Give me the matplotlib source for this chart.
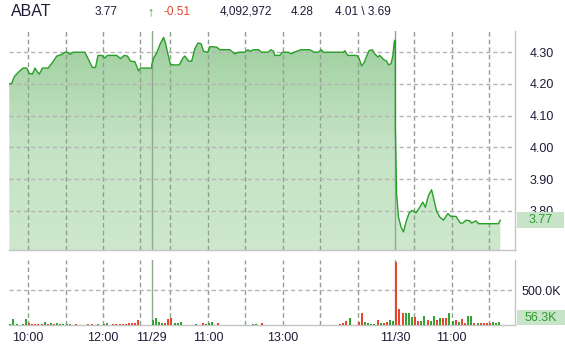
import numpy as np
import matplotlib.pyplot as plt
import matplotlib.transforms as mtransforms
from matplotlib.patches import Rectangle, PathPatch
from matplotlib.colors import LinearSegmentedColormap

plt.rcParams['font.family'] = ['Liberation Sans', 'DejaVu Sans']
plt.rcParams['lines.scale_dashes'] = False

# quote header
ticker = 'ABAT'
last = '3.77'
change = '-0.51'
day_volume = '4,092,972'
open_px = '4.28'
high_low = '4.01 \\ 3.69'

# hours shown per session (first session is cut by the window)
day_hours = [3.8, 6.5, 6.5]
# x labels: (session index, text, minutes after 9:30)
xlabels = [(0, '10:00', 30), (0, '12:00', 150), (1, '11/29', 0), (1, '11:00', 90),
           (1, '13:00', 210), (2, '11/30', 0), (2, '11:00', 90)]

# price, minutes after 9:30 open
d1_min = [0, 4, 8, 14, 22, 28, 32, 37, 41, 45, 48, 53, 62, 70, 76, 84, 89, 93, 97, 102,
          121, 128, 133, 138, 142, 148, 153, 157, 172, 178, 184, 189, 194, 201, 207, 210, 228]
d1_px = [4.20, 4.202, 4.223, 4.236, 4.25, 4.25, 4.233, 4.231, 4.25, 4.238, 4.231, 4.25, 4.25,
         4.27, 4.288, 4.293, 4.30, 4.30, 4.293, 4.30, 4.30, 4.272, 4.252, 4.252, 4.29, 4.29,
         4.282, 4.29, 4.29, 4.28, 4.29, 4.288, 4.272, 4.27, 4.241, 4.25, 4.25]
d2_min = [0, 3, 8, 13, 19, 22, 26, 30, 35, 44, 50, 53, 59, 64, 69, 74, 79, 83, 90, 93, 104,
          109, 125, 133, 139, 149, 154, 157, 163, 171, 176, 186, 191, 195, 197, 205, 209, 219,
          223, 228, 239, 253, 260, 267, 271, 275, 307, 309, 314, 328, 332, 336, 340, 344, 348,
          353, 357, 362, 365, 371, 376, 379, 383, 386, 388, 389, 390]
d2_px = [4.26, 4.282, 4.298, 4.324, 4.347, 4.329, 4.293, 4.262, 4.26, 4.26, 4.282, 4.288,
         4.272, 4.272, 4.311, 4.329, 4.327, 4.303, 4.30, 4.318, 4.316, 4.308, 4.308, 4.295,
         4.30, 4.30, 4.308, 4.303, 4.308, 4.308, 4.30, 4.30, 4.308, 4.303, 4.29, 4.29, 4.30,
         4.30, 4.295, 4.30, 4.308, 4.308, 4.30, 4.30, 4.308, 4.30, 4.30, 4.305, 4.29, 4.29,
         4.28, 4.257, 4.267, 4.288, 4.305, 4.308, 4.295, 4.285, 4.29, 4.277, 4.272, 4.26,
         4.264, 4.288, 4.329, 4.338, 4.332]
d3_min = [0, 2, 5, 9, 13, 17, 22, 27, 33, 38, 44, 48, 53, 58, 62, 66, 71, 77, 84, 89, 97,
          104, 108, 113, 119, 122, 129, 133, 165, 168]
d3_px = [4.06, 3.853, 3.78, 3.749, 3.733, 3.764, 3.793, 3.801, 3.793, 3.808, 3.827, 3.811,
         3.848, 3.866, 3.832, 3.799, 3.78, 3.77, 3.791, 3.782, 3.782, 3.761, 3.761, 3.77,
         3.768, 3.761, 3.768, 3.759, 3.759, 3.77]

# volume, 5-minute bars in thousands; g = up, r = down
d1_vol = [14, 90, 14, 8, 23, 90, 33, 12, 12, 12,
          19, 47, 19, 33, 14, 28, 23, 23, 23, 23,
          5, 23, 5, 5, 5, 23, 23, 5, 14, 5,
          23, 38, 5, 23, 14, 14, 14, 14, 38, 38,
          28, 80, 0, 0, 0, 0]
d1_dir = 'ggggggrrrr' 'rgrgrggggg' 'grggrrrggg' 'rgrrrrrrrr' 'rrgggg'
d2_vol = [75, 108, 52, 38, 38, 94, 108, 28, 28, 52,
          8, 5, 5, 5, 14, 5, 38, 19, 28, 52,
          5, 33, 8, 5, 5, 5, 5, 5, 5, 5,
          5, 5, 23, 19, 5, 38, 5, 5, 5, 5,
          5, 5, 5, 5, 5, 5, 3, 3, 3, 3,
          3, 3, 3, 3, 5, 5, 8, 8, 9, 9,
          23, 28, 61, 103, 8, 8, 52, 179, 52, 33,
          23, 23, 75, 28, 38, 52, 70, 66]
d2_dir = 'ggggrrrggg' 'rrgrggrggg' 'rrrgrrgrgr' 'rgggrrrrgg' 'rrrggrrrgg' 'gggrrrrrrr' 'rrrgggrrgg' 'ggrgrrgg'
d3_vol = [898, 230, 169, 179, 169, 122, 113, 66, 66, 132,
          75, 66, 132, 75, 103, 99, 108, 179, 66, 80,
          52, 85, 38, 132, 132, 38, 28, 38, 38, 38,
          28, 52, 38, 52]
d3_dir = 'rrrgggrrgg' 'rggrgrrggr' 'grrggrgrrr' 'rggg'

price_ticks = [3.80, 3.90, 4.00, 4.10, 4.20, 4.30]
vol_ticks = [500]
last_vol = '56.3K'

c_line = '#28a028'
c_up = '#33a333'
c_dn = '#e8462f'
c_vgrid = '#8ea08e'
c_hgrid = '#b4b4b4'
c_spine = '#c4c4c4'
c_text = '#1c1c38'

offsets = np.concatenate([[0], np.cumsum(day_hours)[:-1]])
x_end = 13.5
y_lo, y_hi = 3.676, 4.367

px_x = np.concatenate([offsets[0] + np.array(d1_min) / 60,
                       offsets[1] + np.array(d2_min) / 60,
                       offsets[2] + np.array(d3_min) / 60])
px_y = np.array(d1_px + d2_px + d3_px)

fig = plt.figure(figsize=(5.65, 3.49), dpi=100)
ax = fig.add_axes([9.3 / 565, 1 - 250 / 349, 506 / 565, 219 / 349])
axv = fig.add_axes([9.3 / 565, 1 - 325.3 / 349, 506 / 565, 65.3 / 349])

# gradient area under price
poly = ax.fill_between(px_x, px_y, y_lo, facecolor='none', edgecolor='none')
clip = PathPatch(poly.get_paths()[0], transform=ax.transData, facecolor='none', edgecolor='none')
ax.add_patch(clip)
cmap = LinearSegmentedColormap.from_list('g', ['#cde8cd', '#c4e3c4', '#9dce9d'])
grad = np.linspace(0, 1, 256).reshape(-1, 1)
im = ax.imshow(grad, extent=[0, x_end, y_lo, y_hi], origin='lower', aspect='auto',
               cmap=cmap, zorder=1)
im.set_clip_path(clip)
ax.plot(px_x, px_y, color=c_line, lw=1.0, zorder=4)

# volume bars
bar_w = 2 / 37.48
for off, vol, dirs in zip(offsets, [d1_vol, d2_vol, d3_vol], [d1_dir, d2_dir, d3_dir]):
    bx = off + np.arange(len(vol)) * 5 / 60
    cols = [c_up if d == 'g' else c_dn for d in dirs]
    axv.bar(bx, vol, width=bar_w, align='edge', color=cols, zorder=3)

# grid: hourly dashed lines, solid day separators
for a in (ax, axv):
    for d, off in enumerate(offsets):
        h = 0.5
        while h < day_hours[d] and off + h < x_end:
            a.axvline(off + h, color=c_vgrid, lw=1, dashes=(3.3, 2.2), zorder=2)
            h += 1
        if d > 0:
            a.axvline(off, color='#8fa88f', lw=1, zorder=2)
    a.set_xlim(0, x_end)
    for s in ('left', 'top'):
        a.spines[s].set_visible(False)
    for s in ('right', 'bottom'):
        a.spines[s].set_color(c_spine)
        a.spines[s].set_linewidth(1)
    a.yaxis.tick_right()
    a.tick_params(axis='y', length=0, pad=19, labelsize=9, labelcolor=c_text)

for t in price_ticks:
    ax.axhline(t, color=c_hgrid, lw=1, dashes=(3, 2.2), zorder=2)
for t in vol_ticks:
    axv.axhline(t, color=c_hgrid, lw=1, dashes=(3, 2.2), zorder=2)

ax.set_ylim(y_lo, y_hi)
ax.set_yticks(price_ticks)
ax.set_yticklabels(['%.2f' % t for t in price_ticks])
ax.set_xticks([])
axv.set_ylim(0, 925)
axv.set_yticks(vol_ticks)
axv.set_yticklabels(['%.1fK' % t for t in vol_ticks])
plt.setp(ax.get_yticklabels(), ha='center')
plt.setp(axv.get_yticklabels(), ha='center')

axv.set_xticks([offsets[d] + m / 60 for d, _, m in xlabels])
axv.set_xticklabels([s for _, s, _ in xlabels])
axv.tick_params(axis='x', length=0, pad=5, labelsize=9, labelcolor=c_text)

# last price / last volume boxes
tr = mtransforms.blended_transform_factory(ax.transAxes, ax.transData)
ax.add_patch(Rectangle((1.0035, float(last) - 0.0253), 0.093, 0.0506, transform=tr,
                       facecolor='#c8e4c8', edgecolor='none', clip_on=False, zorder=5))
ax.text(1.05, float(last), last, transform=tr, ha='center', va='center', fontsize=9,
        color='#2f9a2f', zorder=6, clip_on=False)
axv.add_patch(Rectangle((1.0035, 0), 0.095, 0.234, transform=axv.transAxes,
                        facecolor='#c8e4c8', edgecolor='none', clip_on=False, zorder=5))
axv.text(1.05, 0.117, last_vol, transform=axv.transAxes, ha='center', va='center',
         fontsize=9, color='#2f9a2f', zorder=6, clip_on=False)

# header
hy = 1 - 12 / 349
fig.text(11 / 565, hy, ticker, fontsize=11.5, color=c_text, va='center')
fig.text(95 / 565, hy, last, fontsize=8.5, color=c_text, va='center')
fig.text(147 / 565, hy, '\u2191', fontsize=9, color='#2a9a2a', va='center', fontweight='bold')
fig.text(163 / 565, hy, change, fontsize=8.5, color='#e0452f', va='center')
fig.text(220 / 565, hy, day_volume, fontsize=8.5, color=c_text, va='center')
fig.text(291 / 565, hy, open_px, fontsize=8.5, color=c_text, va='center')
fig.text(335 / 565, hy, high_low, fontsize=8.5, color=c_text, va='center')

fig.savefig('out.png', dpi=100)
